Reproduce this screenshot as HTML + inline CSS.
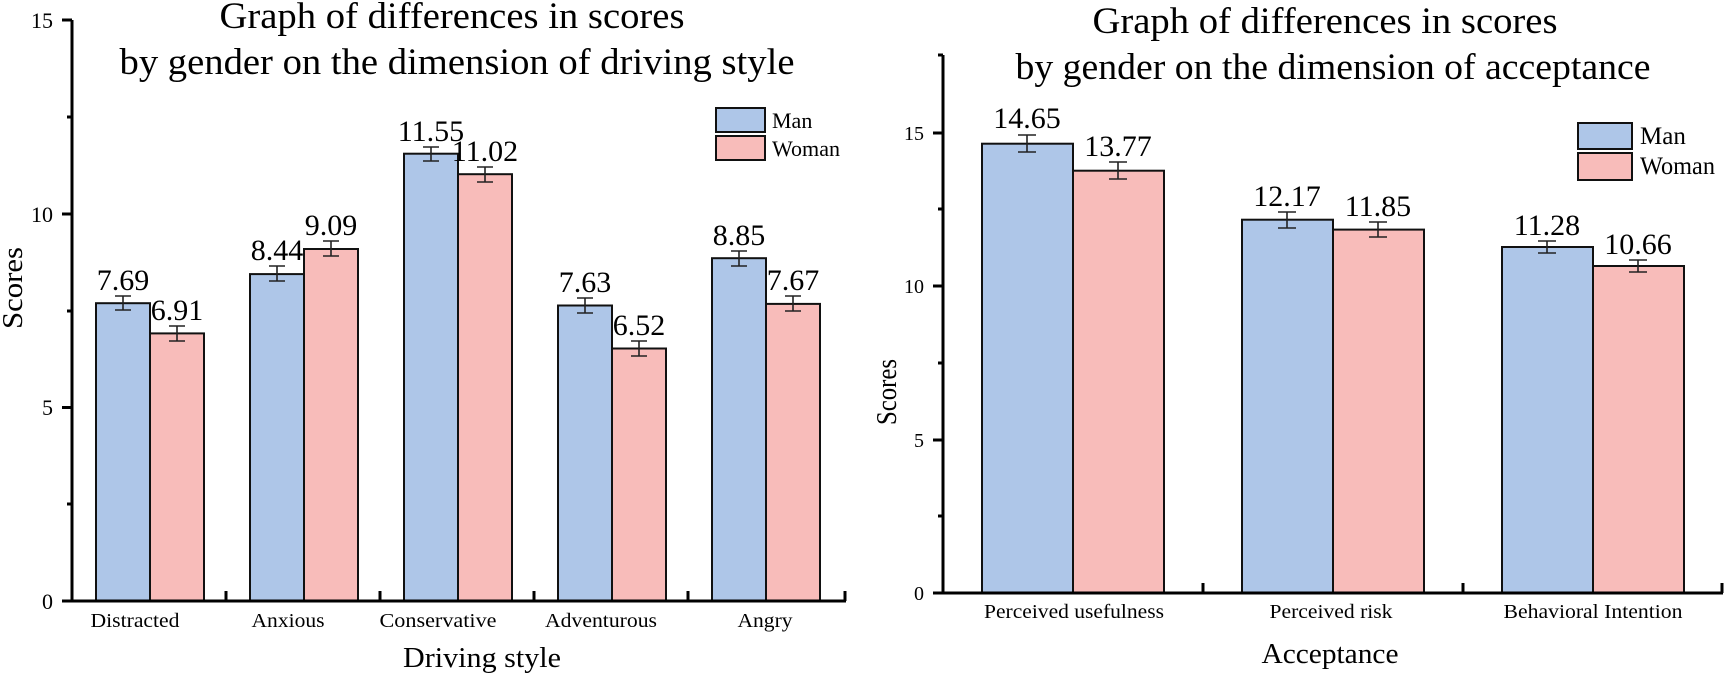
<!DOCTYPE html>
<html><head><meta charset="utf-8"><style>
html,body{margin:0;padding:0;background:#fff;}
svg{display:block;font-family:"Liberation Serif",serif;}
</style></head><body>
<svg width="1724" height="675" viewBox="0 0 1724 675" xmlns="http://www.w3.org/2000/svg">
<g font-size="37" text-anchor="middle" fill="#000">
<text x="452" y="28" textLength="465" lengthAdjust="spacingAndGlyphs">Graph of differences in scores</text>
<text x="457" y="74" textLength="675" lengthAdjust="spacingAndGlyphs">by gender on the dimension of driving style</text>
<text x="1325" y="33" textLength="465" lengthAdjust="spacingAndGlyphs">Graph of differences in scores</text>
<text x="1333" y="79" textLength="635" lengthAdjust="spacingAndGlyphs">by gender on the dimension of acceptance</text>
</g>
<g stroke="#111" stroke-width="2">
<rect x="96" y="303.2" width="54" height="297.8" fill="#aec6e8"/>
<rect x="150" y="333.4" width="54" height="267.6" fill="#f8bcba"/>
<rect x="250" y="274.1" width="54" height="326.9" fill="#aec6e8"/>
<rect x="304" y="249" width="54" height="352" fill="#f8bcba"/>
<rect x="404" y="153.7" width="54" height="447.3" fill="#aec6e8"/>
<rect x="458" y="174.2" width="54" height="426.8" fill="#f8bcba"/>
<rect x="558" y="305.5" width="54" height="295.5" fill="#aec6e8"/>
<rect x="612" y="348.5" width="54" height="252.5" fill="#f8bcba"/>
<rect x="712" y="258.2" width="54" height="342.8" fill="#aec6e8"/>
<rect x="766" y="303.9" width="54" height="297.1" fill="#f8bcba"/>
<rect x="982" y="143.7" width="91" height="449.3" fill="#aec6e8"/>
<rect x="1073" y="170.7" width="91" height="422.3" fill="#f8bcba"/>
<rect x="1242" y="219.7" width="91" height="373.3" fill="#aec6e8"/>
<rect x="1333" y="229.6" width="91" height="363.4" fill="#f8bcba"/>
<rect x="1502" y="247" width="91" height="346" fill="#aec6e8"/>
<rect x="1593" y="266" width="91" height="327" fill="#f8bcba"/>
</g>
<g stroke="#222" stroke-width="1.6" fill="none">
<path d="M123 296v14M115 296h16M115 310h16"/>
<path d="M177 326v15M169 326h16M169 341h16"/>
<path d="M277 266v15M269 266h16M269 281h16"/>
<path d="M331 241v15M323 241h16M323 256h16"/>
<path d="M431 147v14M423 147h16M423 161h16"/>
<path d="M485 167v15M477 167h16M477 182h16"/>
<path d="M585 298v15M577 298h16M577 313h16"/>
<path d="M639 341v15M631 341h16M631 356h16"/>
<path d="M739 251v15M731 251h16M731 266h16"/>
<path d="M793 296v15M785 296h16M785 311h16"/>
<path d="M1027 135v17M1018 135h18M1018 152h18"/>
<path d="M1118 162v17M1109 162h18M1109 179h18"/>
<path d="M1287 212v16M1278 212h18M1278 228h18"/>
<path d="M1378 222v15M1369 222h18M1369 237h18"/>
<path d="M1547 241v12M1538 241h18M1538 253h18"/>
<path d="M1638 260v12M1629 260h18M1629 272h18"/>
</g>
<g font-size="30" text-anchor="middle">
<text x="123" y="290">7.69</text>
<text x="177" y="320">6.91</text>
<text x="277" y="260">8.44</text>
<text x="331" y="235">9.09</text>
<text x="431" y="141">11.55</text>
<text x="485" y="161">11.02</text>
<text x="585" y="292">7.63</text>
<text x="639" y="335">6.52</text>
<text x="739" y="245">8.85</text>
<text x="793" y="290">7.67</text>
<text x="1027" y="128">14.65</text>
<text x="1118" y="156">13.77</text>
<text x="1287" y="206">12.17</text>
<text x="1378" y="216">11.85</text>
<text x="1547" y="235">11.28</text>
<text x="1638" y="254">10.66</text>
</g>
<g stroke="#000" stroke-width="3" fill="none">
<path d="M72 20V601H846"/>
<path d="M62 20h10M62 214h10M62 407.5h10M62 601h10M67 117h5M67 311h5M67 504h5"/>
<path d="M226 601v-10M380 601v-10M534 601v-10M688 601v-10M845 601v-10"/>
<path d="M943 55V593H1723"/>
<path d="M933 133h10M933 286h10M933 440h10M933 593h10M938 55h5M938 209h5M938 363h5M938 516h5"/>
<path d="M1203 593v-10M1463 593v-10M1722 593v-10"/>
</g>
<g font-size="22" text-anchor="end">
<text x="53" y="28">15</text>
<text x="53" y="222">10</text>
<text x="53" y="415">5</text>
<text x="53" y="609">0</text>
</g>
<g font-size="20" text-anchor="end">
<text x="924" y="140">15</text>
<text x="924" y="293">10</text>
<text x="924" y="447">5</text>
<text x="924" y="600">0</text>
</g>
<g font-size="20" text-anchor="middle">
<text x="135" y="627" textLength="89" lengthAdjust="spacingAndGlyphs">Distracted</text>
<text x="288" y="627" textLength="73" lengthAdjust="spacingAndGlyphs">Anxious</text>
<text x="438" y="627" textLength="117" lengthAdjust="spacingAndGlyphs">Conservative</text>
<text x="601" y="627" textLength="112" lengthAdjust="spacingAndGlyphs">Adventurous</text>
<text x="765" y="627" textLength="55" lengthAdjust="spacingAndGlyphs">Angry</text>
<text x="1074" y="618" textLength="180" lengthAdjust="spacingAndGlyphs">Perceived usefulness</text>
<text x="1331" y="618" textLength="123" lengthAdjust="spacingAndGlyphs">Perceived risk</text>
<text x="1593" y="618" textLength="179" lengthAdjust="spacingAndGlyphs">Behavioral Intention</text>
</g>
<g font-size="29" text-anchor="middle">
<text x="482" y="667" textLength="158" lengthAdjust="spacingAndGlyphs">Driving style</text>
<text x="1330" y="663" textLength="137" lengthAdjust="spacingAndGlyphs">Acceptance</text>
<text transform="translate(22,288) rotate(-90)" textLength="82" lengthAdjust="spacingAndGlyphs">Scores</text>
</g>
<text font-size="28" text-anchor="middle" transform="translate(896,392) rotate(-90)" textLength="66" lengthAdjust="spacingAndGlyphs">Scores</text>
<g stroke="#111" stroke-width="2">
<rect x="716" y="108" width="49" height="24" fill="#aec6e8"/>
<rect x="716" y="136" width="49" height="24" fill="#f8bcba"/>
<rect x="1578" y="123" width="54" height="26" fill="#aec6e8"/>
<rect x="1578" y="153" width="54" height="27" fill="#f8bcba"/>
</g>
<g font-size="22">
<text x="772" y="128">Man</text>
<text x="772" y="156" textLength="68" lengthAdjust="spacingAndGlyphs">Woman</text>
</g>
<g font-size="25">
<text x="1640" y="144">Man</text>
<text x="1640" y="174" textLength="75" lengthAdjust="spacingAndGlyphs">Woman</text>
</g>
</svg>
</body></html>
